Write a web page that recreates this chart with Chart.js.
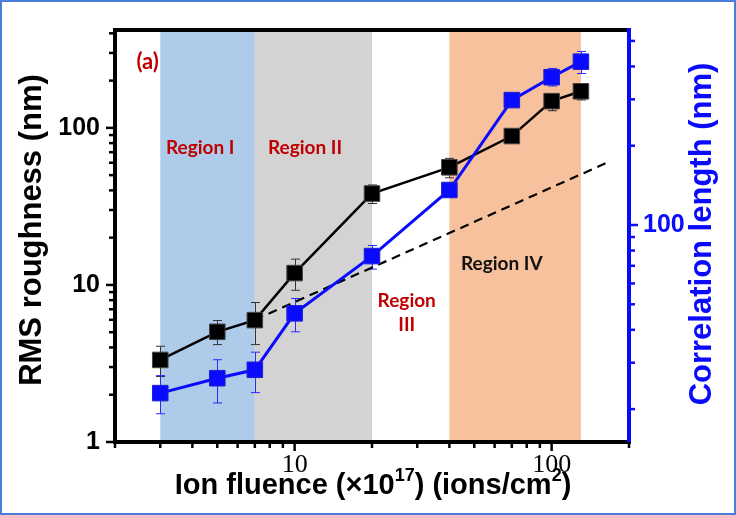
<!DOCTYPE html>
<html>
<head>
<meta charset="utf-8">
<script src="https://cdn.jsdelivr.net/npm/chart.js@4.4.1/dist/chart.umd.min.js"></script>
<style>
  html, body { margin: 0; padding: 0; background: #fff; }
  canvas { display: block; }
</style>
</head>
<body>
<canvas id="chart" width="736" height="515"></canvas>
<script>
// Ion fluence (x10^17 ions/cm2)
const fluence = [3, 5, 7, 10, 20, 40, 70, 100, 130];

// RMS roughness (nm) - left axis
const rms     = [3.33, 5.03, 5.97, 11.9, 38.2, 56.1, 88.7, 148, 171];
const rmsLow  = [2.61, 4.17, 4.17, 9.25, 33.0, 48.1, 85, 128.6, 150.6];
const rmsHigh = [4.07, 5.94, 7.73, 14.6, 43.3, 64.0, 92, 164, 181.5];

// Correlation length (nm) - right axis
const corr     = [23.0, 26.2, 28.2, 46.2, 76.2, 135.8, 298, 364, 417];
const corrLow  = [19.2, 21.1, 23.1, 39.3, 68.0, 129, 287, 337, 376];
const corrHigh = [26.8, 30.8, 32.9, 52.6, 83.6, 141, 310, 393, 456];

// dashed guide line (left axis)
const guideX = [7, 166];
const guideY = [6.0, 60.5];

// shaded regions
const bandStart  = [3, 7, 40];
const bandEnd    = [7, 20, 130];
const bandColors = ['#aecbe9', '#d3d3d3', '#f6c19c'];

// region labels (x in fluence, y in left axis units)
const noteText  = ['(a)', 'Region I', 'Region II', 'Region', 'III', 'Region IV'];
const noteX     = [2.68, 4.29, 10.98, 27.3, 27.3, 64];
const noteY     = [264, 74.7, 74.7, 7.87, 5.53, 13.67];
const noteColor = ['#c00000', '#c00000', '#c00000', '#c00000', '#c00000', '#111111'];

// ticks
const xTicks = [2, 3, 4, 5, 6, 7, 8, 9, 10, 20, 30, 40, 50, 60, 70, 80, 90, 100, 200];
const xLabels = [10, 100];
const yTicks = [1, 2, 3, 4, 5, 6, 7, 8, 9, 10, 20, 30, 40, 50, 60, 70, 80, 90, 100, 200, 300, 400];
const yLabels = [1, 10, 100];
const y1Ticks = [20, 30, 40, 50, 60, 70, 80, 90, 100, 200, 300, 400, 500];
const y1Labels = [100];

const BLUE = '#0a0aff';

function drawErr(ctx, xs, ys, xv, lo, hi, color) {
  ctx.strokeStyle = color;
  ctx.lineWidth = 1;
  for (let i = 0; i < xv.length; i++) {
    const px = Math.round(xs.getPixelForValue(xv[i])) + 0.5;
    const a = ys.getPixelForValue(lo[i]);
    const b = ys.getPixelForValue(hi[i]);
    ctx.beginPath();
    ctx.moveTo(px, a); ctx.lineTo(px, b);
    ctx.moveTo(px - 4.5, a); ctx.lineTo(px + 4.5, a);
    ctx.moveTo(px - 4.5, b); ctx.lineTo(px + 4.5, b);
    ctx.stroke();
  }
}

function drawTickMarks(ctx, scale, values, labels, color, side, edge) {
  ctx.strokeStyle = color;
  ctx.lineWidth = 2.5;
  values.forEach(v => {
    const p = scale.getPixelForValue(v);
    const len = labels.includes(v) ? 8 : 5;
    ctx.beginPath();
    if (side === 'left') { ctx.moveTo(edge, p); ctx.lineTo(edge - len, p); }
    if (side === 'right') { ctx.moveTo(edge, p); ctx.lineTo(edge + len, p); }
    if (side === 'bottom') { ctx.moveTo(p, edge); ctx.lineTo(p, edge + len); }
    ctx.stroke();
  });
}

const decor = {
  id: 'decor',
  beforeDraw(chart) {
    const { ctx, chartArea: a, scales: { x } } = chart;
    ctx.save();
    bandStart.forEach((s, i) => {
      const x0 = x.getPixelForValue(s);
      const x1 = x.getPixelForValue(bandEnd[i]);
      ctx.fillStyle = bandColors[i];
      ctx.fillRect(x0, a.top, x1 - x0, a.bottom - a.top);
    });
    ctx.restore();
  },
  beforeDatasetsDraw(chart) {
    const { ctx, scales: { x, y, y1 } } = chart;
    ctx.save();
    drawErr(ctx, x, y, fluence, rmsLow, rmsHigh, '#333333');
    drawErr(ctx, x, y1, fluence, corrLow, corrHigh, '#2a2aff');
    ctx.restore();
  },
  afterDraw(chart) {
    const { ctx, chartArea: a, scales: { x, y, y1 } } = chart;
    ctx.save();

    // axis lines
    ctx.lineWidth = 4;
    ctx.strokeStyle = '#000';
    ctx.beginPath();
    ctx.moveTo(a.left - 2, a.top); ctx.lineTo(a.right, a.top);
    ctx.moveTo(a.left, a.top - 2); ctx.lineTo(a.left, a.bottom + 2);
    ctx.moveTo(a.left - 2, a.bottom); ctx.lineTo(a.right + 2, a.bottom);
    ctx.stroke();
    ctx.strokeStyle = BLUE;
    ctx.beginPath();
    ctx.moveTo(a.right, a.top - 2); ctx.lineTo(a.right, a.bottom);
    ctx.stroke();

    drawTickMarks(ctx, y, yTicks, yLabels, '#000', 'left', a.left - 1);
    drawTickMarks(ctx, x, xTicks, xLabels, '#000', 'bottom', a.bottom + 1);
    drawTickMarks(ctx, y1, y1Ticks, y1Labels, BLUE, 'right', a.right + 1);

    // notes
    ctx.textAlign = 'center';
    ctx.textBaseline = 'middle';
    noteText.forEach((t, i) => {
      ctx.font = (i === 0 ? 'bold 22px' : 'bold 19px') + ' Lato';
      ctx.fillStyle = noteColor[i];
      ctx.fillText(t, x.getPixelForValue(noteX[i]), y.getPixelForValue(noteY[i]));
    });

    // axis titles
    ctx.font = 'bold 31px "Liberation Sans"';
    ctx.fillStyle = '#000';
    ctx.save();
    ctx.translate(32, 230);
    ctx.rotate(-Math.PI / 2);
    ctx.fillText('RMS roughness (nm)', 0, 0);
    ctx.restore();

    ctx.fillStyle = BLUE;
    ctx.save();
    ctx.translate(702, 234);
    ctx.rotate(-Math.PI / 2);
    ctx.fillText('Correlation length (nm)', 0, 0);
    ctx.restore();

    // x title with superscripts
    const big = 'bold 29px "Liberation Sans"';
    const sup = 'bold 18px "Liberation Sans"';
    const parts = [
      ['Ion fluence (\u00d710', big, 0],
      ['17', sup, -13],
      [') (ions/cm', big, 0],
      ['2', sup, -13],
      [')', big, 0]
    ];
    let total = 0;
    parts.forEach(p => { ctx.font = p[1]; total += ctx.measureText(p[0]).width; });
    let cx = 373 - total / 2;
    ctx.textAlign = 'left';
    ctx.textBaseline = 'alphabetic';
    ctx.fillStyle = '#000';
    parts.forEach(p => {
      ctx.font = p[1];
      ctx.fillText(p[0], cx, 494 + p[2]);
      cx += ctx.measureText(p[0]).width;
    });

    // outer frame
    ctx.strokeStyle = '#4a7ed8';
    ctx.lineWidth = 2;
    ctx.strokeRect(1, 1, chart.width - 2, chart.height - 2);
    ctx.restore();
  }
};

new Chart(document.getElementById('chart'), {
  type: 'line',
  data: {
    datasets: [
      {
        label: 'Correlation length',
        data: fluence.map((f, i) => ({ x: f, y: corr[i] })),
        yAxisID: 'y1',
        borderColor: BLUE,
        backgroundColor: BLUE,
        borderWidth: 3,
        pointStyle: 'rect',
        pointRadius: 11,
        pointBorderColor: '#2020d0',
        pointBorderWidth: 1,
        order: 0
      },
      {
        label: 'RMS roughness',
        data: fluence.map((f, i) => ({ x: f, y: rms[i] })),
        yAxisID: 'y',
        borderColor: '#000',
        backgroundColor: '#000',
        borderWidth: 2.5,
        pointStyle: 'rect',
        pointRadius: 11,
        pointBorderColor: '#444',
        pointBorderWidth: 1,
        order: 1
      },
      {
        label: 'guide',
        data: guideX.map((g, i) => ({ x: g, y: guideY[i] })),
        yAxisID: 'y',
        borderColor: '#000',
        borderWidth: 2.2,
        borderDash: [9, 6],
        pointRadius: 0,
        order: 2
      }
    ]
  },
  options: {
    responsive: false,
    animation: false,
    layout: { padding: { top: 20, left: 0, right: 0, bottom: 0 } },
    plugins: { legend: { display: false }, tooltip: { enabled: false } },
    scales: {
      x: {
        type: 'logarithmic',
        position: 'bottom',
        min: 2,
        max: 200,
        afterBuildTicks: s => { s.ticks = xTicks.map(v => ({ value: v })); },
        afterFit: s => { s.height = 73; },
        grid: { display: false, drawTicks: false },
        border: { display: false },
        ticks: {
          autoSkip: false,
          maxRotation: 0,
          padding: 8,
          color: '#000',
          font: { family: 'Liberation Serif', size: 26 },
          callback: v => xLabels.includes(v) ? String(v) : ''
        }
      },
      y: {
        type: 'logarithmic',
        position: 'left',
        min: 1,
        max: 420,
        afterBuildTicks: s => { s.ticks = yTicks.map(v => ({ value: v })); },
        afterFit: s => { s.width = 115; },
        grid: { display: false, drawTicks: false },
        border: { display: false },
        ticks: {
          autoSkip: false,
          padding: 15,
          color: '#000',
          font: { family: 'Liberation Sans', size: 25, weight: 'bold' },
          callback: v => yLabels.includes(v) ? String(v) : ''
        }
      },
      y1: {
        type: 'logarithmic',
        position: 'right',
        min: 15,
        max: 550,
        afterBuildTicks: s => { s.ticks = y1Ticks.map(v => ({ value: v })); },
        afterFit: s => { s.width = 107; },
        grid: { display: false, drawTicks: false },
        border: { display: false },
        ticks: {
          autoSkip: false,
          padding: 14,
          color: BLUE,
          font: { family: 'Liberation Sans', size: 25, weight: 'bold' },
          callback: v => y1Labels.includes(v) ? String(v) : ''
        }
      }
    }
  },
  plugins: [decor]
});
</script>
</body>
</html>
